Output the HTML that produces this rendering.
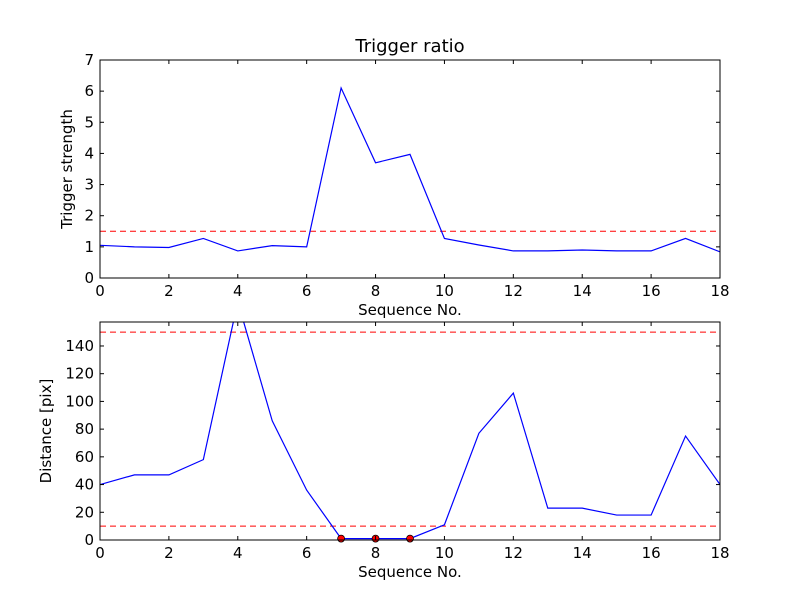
<!DOCTYPE html>
<html><head><meta charset="utf-8"><style>
body{margin:0;background:#fff;}
svg text{font-family:"DejaVu Sans","Liberation Sans",sans-serif;}
</style></head><body>
<svg id="c" width="800" height="600" xmlns="http://www.w3.org/2000/svg">
<rect width="800" height="600" fill="#fff"/>
</svg>
<script>
const seqNo=[0,1,2,3,4,5,6,7,8,9,10,11,12,13,14,15,16,17,18];
const triggerStrength=[1.05,1.0,0.98,1.27,0.87,1.04,1.0,6.1,3.7,3.97,1.27,1.06,0.87,0.87,0.9,0.87,0.87,1.27,0.84];
const triggerThreshold=[1.5];
const distance=[40,47,47,58,172,86,36,1,1,1,11,77,106,23,23,18,18,75,40];
const distThresholds=[10,150];
const flaggedSeq=[7,8,9];
const xTicks=[0,2,4,6,8,10,12,14,16,18];
const topYTicks=[0,1,2,3,4,5,6,7];
const botYTicks=[0,20,40,60,80,100,120,140];

const NS="http://www.w3.org/2000/svg";
const svg=document.getElementById('c');
function mk(t,a,p){const e=document.createElementNS(NS,t);for(const k in a)e.setAttribute(k,a[k]);(p||svg).appendChild(e);return e;}

function panel(o){
  const g=mk('g',{});
  
  
  const L=100,R=720,T=o.top,B=o.bottom;
  const xs=v=>L+(v-0)/(18-0)*(R-L);
  const ys=v=>B-(v-o.ymin)/(o.ymax-o.ymin)*(B-T);
  const cid='clip'+o.name;
  const cp=mk('clipPath',{id:cid},g);mk('rect',{x:L,y:T,width:R-L,height:B-T},cp);
  const plot=mk('g',{'clip-path':'url(#'+cid+')'},g);
  o.hlines.forEach(v=>{const l=mk('line',{x1:L,x2:R,y1:ys(v),y2:ys(v),stroke:'#ff0000','stroke-dasharray':'6,4','stroke-width':1},plot);
    });
  const pl=mk('polyline',{points:o.data.map((v,i)=>xs(seqNo[i])+','+ys(v)).join(' '),fill:'none',stroke:'#0000ff','stroke-width':1.2},plot);
  
  (o.dots||[]).forEach(s=>{const c=mk('circle',{cx:xs(s),cy:ys(o.data[seqNo.indexOf(s)]),r:3.5,fill:'#ff0000',stroke:'#000','stroke-width':0.8},g);
    });
  const fr=mk('rect',{x:L,y:T,width:R-L,height:B-T,fill:'none',stroke:'#000','stroke-width':1},g);
  
  xTicks.forEach(v=>{const x=xs(v);
    mk('line',{x1:x,x2:x,y1:B,y2:B-4,stroke:'#000'},g);mk('line',{x1:x,x2:x,y1:T,y2:T+4,stroke:'#000'},g);
    const t=mk('text',{x:x,y:B+18,'text-anchor':'middle','font-size':15},g);t.textContent=v;
    });
  o.yticks.forEach(v=>{const y=ys(v);
    mk('line',{x1:L,x2:L+4,y1:y,y2:y,stroke:'#000'},g);mk('line',{x1:R,x2:R-4,y1:y,y2:y,stroke:'#000'},g);
    const t=mk('text',{x:L-6,y:y+5,'text-anchor':'end','font-size':15},g);t.textContent=v;
    });
  const xl=mk('text',{x:(L+R)/2,y:B+37,'text-anchor':'middle','font-size':15},g);xl.textContent='Sequence No.';
  
  const yl=mk('text',{x:o.ylx,y:(T+B)/2,'text-anchor':'middle','font-size':15,transform:'rotate(-90 '+o.ylx+' '+(T+B)/2+')'},g);yl.textContent=o.ylabel;
  
  if(o.title){const tt=mk('text',{x:(L+R)/2,y:T-8,'text-anchor':'middle','font-size':18},g);tt.textContent=o.title;
    }
}
panel({name:'trigger-panel',top:60,bottom:278,ymin:0,ymax:7,data:triggerStrength,hlines:triggerThreshold,yticks:topYTicks,ylabel:'Trigger strength',ylx:72,title:'Trigger ratio'});
panel({name:'distance-panel',top:322,bottom:540,ymin:0,ymax:157.3,data:distance,hlines:distThresholds,yticks:botYTicks,ylabel:'Distance [pix]',ylx:51,dots:flaggedSeq});
</script>
</body></html>
